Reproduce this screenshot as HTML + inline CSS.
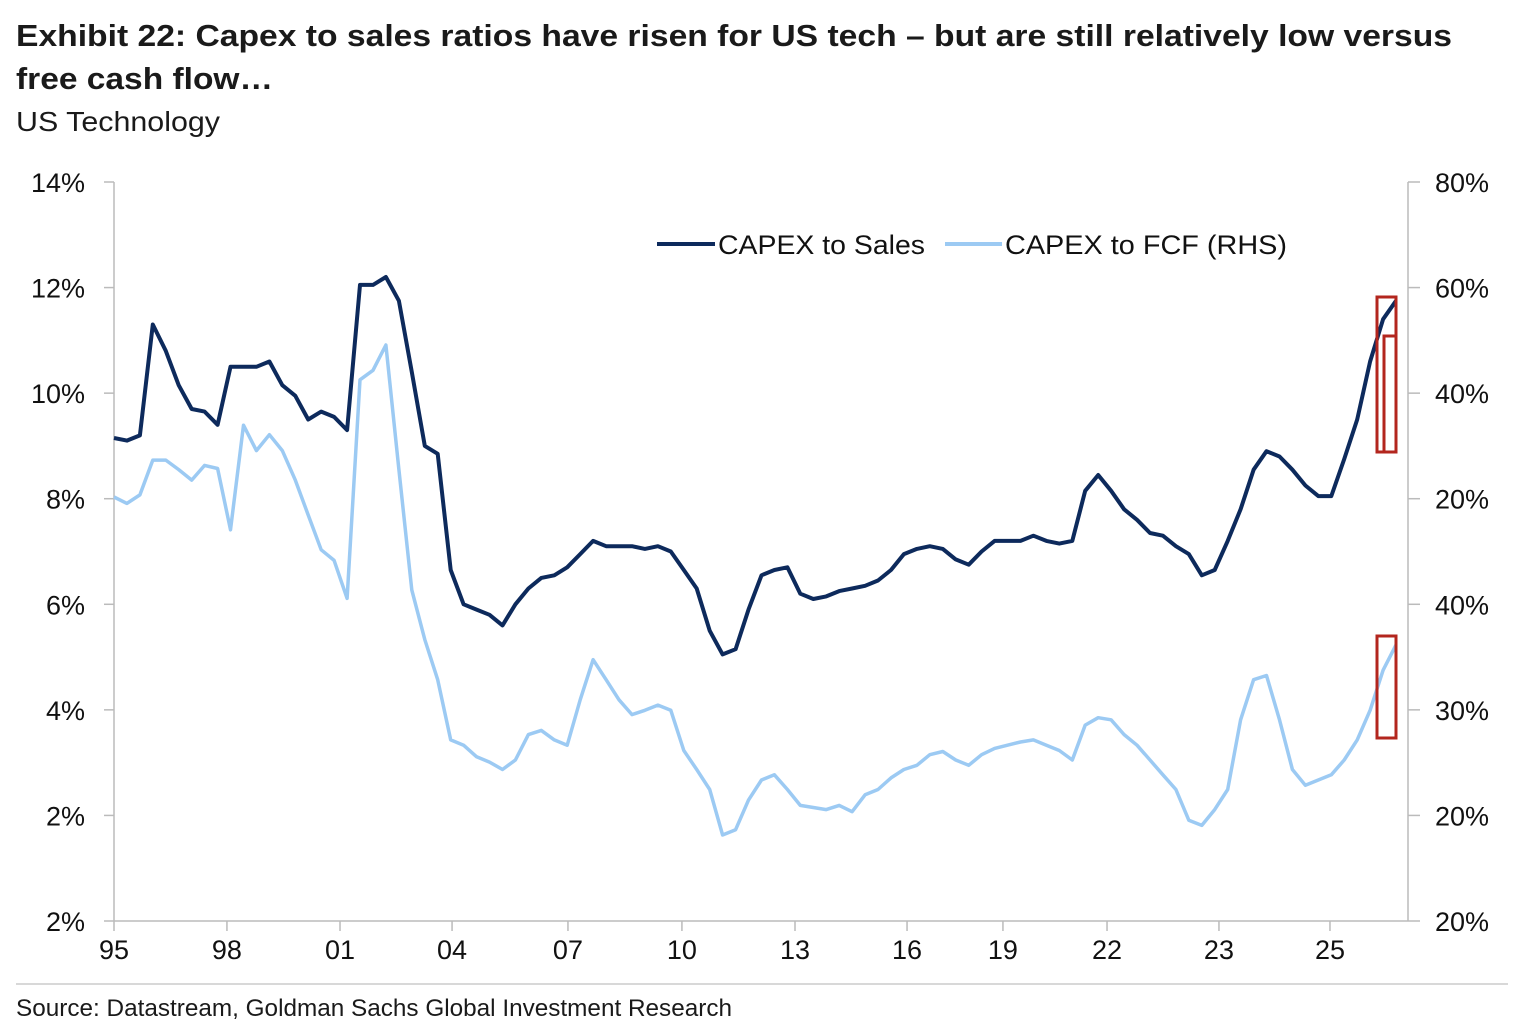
<!DOCTYPE html>
<html><head><meta charset="utf-8"><style>
html,body{margin:0;padding:0;background:#fff}
svg{display:block}
text{font-family:"Liberation Sans",sans-serif}
</style></head><body>
<svg id="chart" width="1536" height="1024" viewBox="0 0 1536 1024">
<text x="16" y="46" font-size="31" font-weight="bold" fill="#1a1a1a" textLength="1436" lengthAdjust="spacingAndGlyphs">Exhibit 22: Capex to sales ratios have risen for US tech – but are still relatively low versus</text>
<text x="16" y="89" font-size="31" font-weight="bold" fill="#1a1a1a" textLength="257" lengthAdjust="spacingAndGlyphs">free cash flow…</text>
<text x="16" y="131" font-size="28" fill="#1a1a1a" textLength="204" lengthAdjust="spacingAndGlyphs">US Technology</text>
<g id="axes"></g>
<g id="series"></g>
<g>
<line x1="657" y1="244" x2="715" y2="244" stroke="#0d2a5c" stroke-width="4"/>
<text x="718" y="254" font-size="27" fill="#111" textLength="207" lengthAdjust="spacingAndGlyphs">CAPEX to Sales</text>
<line x1="945" y1="244" x2="1002" y2="244" stroke="#9ccaf3" stroke-width="4"/>
<text x="1005" y="254" font-size="27" fill="#111" textLength="282" lengthAdjust="spacingAndGlyphs">CAPEX to FCF (RHS)</text>
</g>
<g fill="none" stroke="#b3261e" stroke-width="3">
<rect x="1377" y="297" width="19" height="155"/>
<rect x="1384" y="336" width="12" height="116"/>
<rect x="1377" y="636" width="19" height="102"/>
</g>
<line x1="16" y1="984" x2="1508" y2="984" stroke="#ccc" stroke-width="1.5"/>
<text x="16" y="1016" font-size="24" fill="#1a1a1a" textLength="716" lengthAdjust="spacingAndGlyphs">Source: Datastream, Goldman Sachs Global Investment Research</text>
</svg>
<script>
const leftTickLabels=["14%","12%","10%","8%","6%","4%","2%","2%"];
const leftTickValues=[14,12,10,8,6,4,2,0];
const rightTickLabels=["80%","60%","40%","20%","40%","30%","20%","20%"];
const rightTickValues=[70,60,50,40,30,20,10,0];
const xTickLabels=["95","98","01","04","07","10","13","16","19","22","23","25"];
const xTickPos=[0,8.81,17.63,26.37,35.41,44.3,53.12,61.86,69.34,77.46,86.19,94.85];
const capexSales=[9.15,9.1,9.2,11.3,10.8,10.15,9.7,9.65,9.4,10.5,10.5,10.5,10.6,10.15,9.95,9.5,9.65,9.55,9.3,12.05,12.05,12.2,11.75,10.4,9.0,8.85,6.65,6.0,5.9,5.8,5.6,6.0,6.3,6.5,6.55,6.7,6.95,7.2,7.1,7.1,7.1,7.05,7.1,7.0,6.65,6.3,5.5,5.05,5.15,5.9,6.55,6.65,6.7,6.2,6.1,6.15,6.25,6.3,6.35,6.45,6.65,6.95,7.05,7.1,7.05,6.85,6.75,7.0,7.2,7.2,7.2,7.3,7.2,7.15,7.2,8.15,8.45,8.15,7.8,7.6,7.35,7.3,7.1,6.95,6.55,6.65,7.2,7.8,8.55,8.9,8.8,8.55,8.25,8.05,8.05,8.75,9.5,10.6,11.4,11.75];
const capexFcf=[50.3,49.7,50.5,53.8,53.8,52.9,51.9,53.3,53,47.2,57.1,54.7,56.2,54.7,51.9,48.6,45.3,44.3,40.7,61.4,62.3,64.7,52.9,41.5,36.8,33,27.3,26.8,25.7,25.2,24.5,25.4,27.8,28.2,27.3,26.8,31.1,34.9,33,31.1,29.7,30.1,30.6,30.1,26.3,24.5,22.6,18.3,18.8,21.6,23.5,24,22.6,21.1,20.9,20.7,21.1,20.5,22.1,22.6,23.7,24.5,24.9,25.9,26.2,25.4,24.9,25.9,26.5,26.8,27.1,27.3,26.8,26.3,25.4,28.7,29.4,29.2,27.8,26.8,25.4,24,22.6,19.7,19.2,20.7,22.6,29.2,33,33.4,29.2,24.5,23,23.5,24,25.4,27.3,30.1,33.9,36.3];
const NS="http://www.w3.org/2000/svg";
const X0=114,X1=1408,XD=1396,YT=182,YB=921;
function yL(v){return YB-(v/14)*(YB-YT);}
function yR(v){return 817-(v-20)*10.56;}
function xI(i,n){return X0+i*(XD-X0)/(n-1);}
function xT(t){return X0+t/100*(XD-X0);}
function mk(tag,attrs,parent){const e=document.createElementNS(NS,tag);for(const k in attrs)e.setAttribute(k,attrs[k]);parent.appendChild(e);return e;}
const ax=document.getElementById('axes');
let e=mk('line',{x1:X0,y1:YT,x2:X0,y2:YB,stroke:'#bbb','stroke-width':1.5},ax);


e=mk('line',{x1:X1,y1:YT,x2:X1,y2:YB,stroke:'#bbb','stroke-width':1.5},ax);


e=mk('line',{x1:X0,y1:YB,x2:X1,y2:YB,stroke:'#bbb','stroke-width':1.5},ax);


leftTickValues.forEach((v,i)=>{const y=yL(v);
 let t=mk('line',{x1:X0-10,y1:y,x2:X0,y2:y,stroke:'#bbb','stroke-width':1.5},ax);
 
 
 const l=mk('text',{x:85,y:y+10,'font-size':27,'text-anchor':'end',fill:'#111'},ax);l.textContent=leftTickLabels[i];
 
 
});
rightTickValues.forEach((v,i)=>{const y=YB-(v/70)*(YB-YT);
 let t=mk('line',{x1:X1,y1:y,x2:X1+12,y2:y,stroke:'#bbb','stroke-width':1.5},ax);
 
 
 const l=mk('text',{x:1435,y:y+10,'font-size':27,fill:'#111'},ax);l.textContent=rightTickLabels[i];
 
 
});
xTickPos.forEach((p,i)=>{const x=xT(p);
 let t=mk('line',{x1:x,y1:YB,x2:x,y2:YB+10,stroke:'#bbb','stroke-width':1.5},ax);
 
 
 const l=mk('text',{x:x,y:959,'font-size':27,'text-anchor':'middle',fill:'#111'},ax);l.textContent=xTickLabels[i];
 
 
});
const sg=document.getElementById('series');
function line(arr,yf,col,w){let d='';arr.forEach((v,i)=>{d+=(i?'L':'M')+xI(i,arr.length).toFixed(1)+' '+yf(v).toFixed(1);});
 return mk('path',{d:d,fill:'none',stroke:col,'stroke-width':w,'stroke-linejoin':'round'},sg);}
const p2=line(capexFcf,yR,'#9ccaf3',3.5);


const p1=line(capexSales,yL,'#0d2a5c',4);


</script>
</body></html>
